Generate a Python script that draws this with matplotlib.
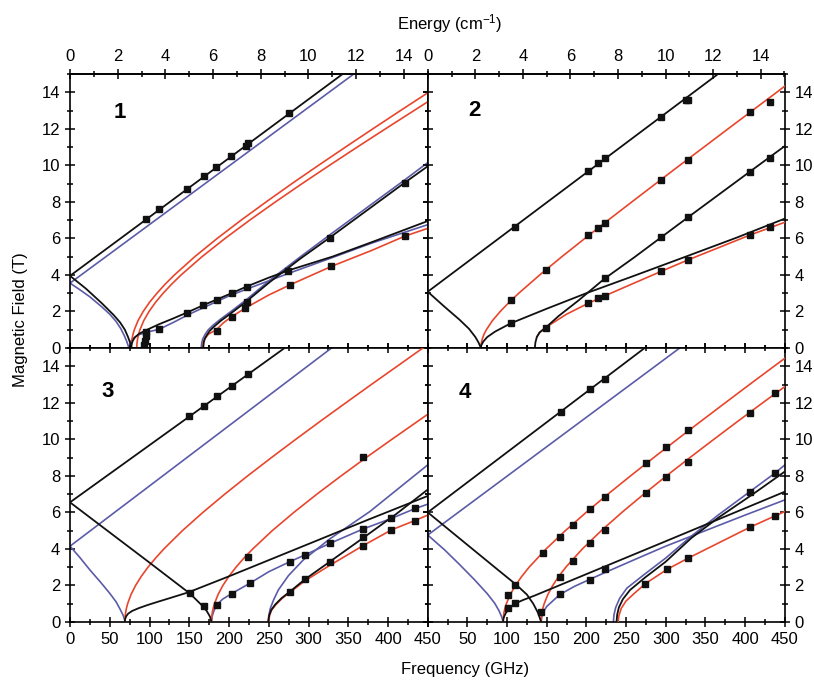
import matplotlib
matplotlib.use('Agg')
import matplotlib.pyplot as plt
from matplotlib.ticker import MultipleLocator

plt.rcParams['font.family'] = ['Liberation Sans', 'DejaVu Sans']
plt.rcParams['mathtext.default'] = 'regular'

GHZ_PER_CM = 29.9792458

BLACK = '#111111'
BLUE = '#5b5ba8'
RED = '#e8462c'

# ---- panel 1 : curves as (frequency GHz, field T) ----
p1_black = [
    ([0, 343], [3.95, 15.0]),
    ([0, 20, 40, 55, 63, 69, 73, 75.5, 77], [3.95, 3.25, 2.45, 1.8, 1.4, 1.0, 0.6, 0.3, 0]),
    ([77, 77.5, 79, 82, 87, 96, 112, 130, 146.6, 167.6, 184.4, 203.3, 222, 250, 276.5, 330, 380, 450],
     [0, 0.2, 0.4, 0.6, 0.78, 0.98, 1.3, 1.62, 1.93, 2.34, 2.65, 3.0, 3.36, 3.85, 4.27, 5.0, 5.8, 6.95]),
    ([167.6, 168.2, 169.5, 172, 176, 182, 190, 201, 222, 251, 290, 327, 421, 450],
     [0, 0.3, 0.5, 0.7, 0.95, 1.2, 1.5, 1.85, 2.55, 3.6, 4.9, 6.05, 9.05, 9.95]),
]
p1_blue = [
    ([0, 357], [3.55, 15.0]),
    ([0, 12, 25, 40, 50, 58, 64, 68, 71, 73, 74], [3.55, 3.2, 2.8, 2.25, 1.85, 1.45, 1.05, 0.7, 0.4, 0.15, 0]),
    ([75, 75.5, 77, 80, 88, 100, 112, 130, 150, 170, 200, 230, 276, 330, 380, 450],
     [0, 0.2, 0.4, 0.55, 0.75, 0.9, 1.02, 1.4, 1.85, 2.25, 2.85, 3.35, 4.1, 4.95, 5.75, 6.75]),
    ([165, 165.8, 167, 170, 174, 180, 190, 201, 222, 251, 290, 327, 421, 450],
     [0, 0.3, 0.5, 0.75, 1.0, 1.25, 1.6, 1.95, 2.65, 3.7, 5.0, 6.2, 9.2, 10.15]),
]
p1_red = [
    ([77, 77.04, 77.25, 78.0, 79.2, 80.9, 85.6, 92.1, 100.0, 109.4, 119.8, 131.4, 157.0, 185.2,
      215.3, 246.8, 279.2, 312.6, 346.6, 381, 415.8, 450],
     [0, 0.1, 0.25, 0.5, 0.75, 1, 1.5, 2, 2.5, 3, 3.5, 4, 5, 6, 7, 8, 9, 10, 11, 12, 13, 13.97]),
    ([84, 84.04, 84.25, 85.0, 86.2, 88.0, 92.8, 99.4, 107.6, 117.2, 128.0, 139.8, 166.1, 195.1,
      226.1, 258.5, 292.0, 326.4, 361.4, 396.9, 432.8, 450],
     [0, 0.1, 0.25, 0.5, 0.75, 1, 1.5, 2, 2.5, 3, 3.5, 4, 5, 6, 7, 8, 9, 10, 11, 12, 13, 13.48]),
    ([167, 167.8, 169.5, 174, 184, 193, 203, 220, 250, 276.5, 329, 380, 421, 450],
     [0, 0.3, 0.5, 0.75, 1.0, 1.38, 1.7, 2.17, 2.9, 3.45, 4.47, 5.35, 6.12, 6.55]),
]
p1_sq_f = [96, 112, 147, 168, 184, 202, 221, 224, 276,
           93, 94, 95, 96, 112, 146.6, 167.6, 184.4, 203.3, 222.2, 274.6,
           184.4, 203.3, 222.2, 220, 276.5, 326.8, 328.9, 421, 421]
p1_sq_B = [7.05, 7.6, 8.7, 9.4, 9.9, 10.5, 11.05, 11.2, 12.85,
           0.15, 0.4, 0.65, 0.9, 1.02, 1.92, 2.34, 2.63, 3.0, 3.36, 4.24,
           0.95, 1.72, 2.54, 2.17, 3.45, 6.04, 4.47, 6.12, 9.05]

# ---- panel 2 ----
p2_black = [
    ([0, 366], [3.08, 15.0]),
    ([0, 20, 40, 52, 60, 64, 67], [3.08, 2.3, 1.55, 1.05, 0.6, 0.3, 0]),
    ([67, 67.5, 70, 75, 85, 104.6, 150, 200, 260, 324, 390, 450],
     [0, 0.15, 0.35, 0.6, 0.9, 1.35, 2.15, 3.0, 3.95, 4.98, 6.05, 7.08]),
    ([135, 135.7, 137.5, 141, 149.6, 165, 190, 223, 260, 294.6, 328, 406, 450],
     [0, 0.3, 0.6, 0.85, 1.15, 1.75, 2.6, 3.8, 4.95, 6.07, 7.15, 9.65, 11.05]),
]
p2_blue = []
p2_red = [
    ([67, 67.07, 67.45, 68.8, 70.9, 73.9, 81.6, 91.4, 102.6, 114.8, 141.2, 169.1, 198.1, 227.5,
      257.4, 287.5, 317.7, 348.2, 378.7, 409.3, 440.0, 450],
     [0, 0.1, 0.25, 0.5, 0.75, 1, 1.5, 2, 2.5, 3, 4, 5, 6, 7, 8, 9, 10, 11, 12, 13, 14, 14.33]),
    ([137.5, 141, 149.6, 175, 202, 223, 260, 294.6, 328, 370, 406, 450],
     [0.6, 0.85, 1.15, 1.85, 2.44, 2.85, 3.55, 4.2, 4.82, 5.55, 6.18, 6.88]),
]
p2_sq_f = [109.7, 202, 214.7, 223.1, 294.6, 326, 328,
           104.6, 149.6, 202, 214.7, 223.1, 294.6, 328.2, 405.9, 431,
           104.6,
           149.6, 223.1, 294.6, 328.2, 405.9, 431.1,
           202, 214.7, 223.1, 294.6, 328.2, 405.9, 431.1]
p2_sq_B = [6.64, 9.7, 10.1, 10.38, 12.66, 13.57, 13.6,
           2.63, 4.27, 6.18, 6.55, 6.82, 9.2, 10.29, 12.94, 13.48,
           1.35,
           1.11, 3.81, 6.09, 7.19, 9.65, 10.38,
           2.44, 2.72, 2.85, 4.21, 4.82, 6.18, 6.64]

# ---- panel 3 ----
p3_black = [
    ([0, 270], [6.55, 15.0]),
    ([0, 50, 100, 130, 151, 165, 172, 176, 178], [6.55, 4.9, 3.25, 2.25, 1.55, 0.95, 0.6, 0.3, 0]),
    ([69, 69.3, 70.5, 73, 78, 86, 97, 110, 125, 148.7, 200, 300, 375, 450],
     [0, 0.15, 0.3, 0.45, 0.6, 0.75, 0.92, 1.1, 1.3, 1.62, 2.5, 4.27, 5.6, 6.9]),
    ([249.3, 250.5, 253, 258, 266, 276.5, 295.4, 326.8, 368.7, 410, 450],
     [0, 0.35, 0.65, 0.95, 1.3, 1.66, 2.33, 3.3, 4.6, 5.9, 7.25]),
]
p3_blue = [
    ([0, 329], [4.15, 15.0]),
    ([0, 12, 25, 38, 50, 58, 63, 67, 69.5], [4.15, 3.55, 2.85, 2.2, 1.57, 1.1, 0.7, 0.35, 0]),
    ([178, 178.8, 180.5, 184.4, 192, 203.2, 226.2, 250, 276.5, 295.4, 326.8, 368.7, 404.3, 433.6, 450],
     [0, 0.3, 0.55, 0.93, 1.25, 1.55, 2.12, 2.75, 3.3, 3.67, 4.3, 5.09, 5.67, 6.2, 6.45]),
    ([249.3, 250, 252, 256, 262, 275, 293.3, 326.8, 377, 450],
     [0, 0.35, 0.75, 1.2, 1.75, 2.55, 3.39, 4.55, 6.04, 8.6]),
]
p3_red = [
    ([69, 69.04, 69.2, 69.9, 70.97, 72.5, 76.7, 82.5, 89.7, 98.1, 107.7, 118.1, 141.4, 167.2,
      194.7, 223.5, 253.4, 284, 315.2, 347, 379, 411.5, 443.9],
     [0, 0.1, 0.25, 0.5, 0.75, 1, 1.5, 2, 2.5, 3, 3.5, 4, 5, 6, 7, 8, 9, 10, 11, 12, 13, 14, 15]),
    ([178, 178.04, 178.2, 178.9, 180.1, 181.7, 186.2, 192.3, 199.9, 208.8, 218.8, 229.9, 254.4,
      281.6, 310.6, 341.1, 372.5, 404.9, 437.8, 450],
     [0, 0.1, 0.25, 0.5, 0.75, 1, 1.5, 2, 2.5, 3, 3.5, 4, 5, 6, 7, 8, 9, 10, 11, 11.37]),
    ([250, 251, 253.5, 259, 267, 276.5, 295.4, 326.8, 368.7, 404.3, 433.6, 450],
     [0, 0.35, 0.65, 0.95, 1.3, 1.62, 2.25, 3.1, 4.18, 5.04, 5.55, 5.85]),
]
p3_sq_f = [150, 168.4, 184.4, 203.2, 224.1,
           151, 168.4,
           224.1, 368.7,
           184.4, 203.2, 226.2, 276.5, 295.4, 326.8, 368.7, 404.3, 433.6,
           276.5, 295.4, 326.8, 368.7,
           368.7, 404.3, 433.6]
p3_sq_B = [11.25, 11.85, 12.35, 12.93, 13.58,
           1.57, 0.87,
           3.57, 9.05,
           0.93, 1.53, 2.12, 3.3, 3.67, 4.3, 5.09, 5.67, 6.22,
           1.66, 2.33, 3.3, 4.67,
           4.18, 5.04, 5.55]

# ---- panel 4 ----
p4_black = [
    ([0, 273.5], [6.0, 15.0]),
    ([0, 50, 90, 111.8, 125, 133, 139, 143], [6.0, 4.22, 2.8, 2.03, 1.5, 1.0, 0.5, 0]),
    ([95, 95.3, 96.3, 98.5, 101.2, 105, 109.7, 120, 135, 200, 300, 450],
     [0, 0.15, 0.3, 0.5, 0.65, 0.83, 1.0, 1.2, 1.45, 2.62, 4.42, 7.13]),
    ([238, 238.8, 241, 246, 255, 274.4, 300, 332.4, 366, 410, 450],
     [0, 0.4, 0.8, 1.25, 1.75, 2.45, 3.3, 4.6, 5.7, 7.0, 8.23]),
]
p4_blue = [
    ([0, 317.7], [4.76, 15.0]),
    ([0, 21.4, 40, 59.2, 75, 84.5, 90, 93.5, 95], [4.76, 3.94, 3.15, 2.3, 1.55, 1.02, 0.6, 0.25, 0]),
    ([143, 143.5, 145, 150, 166.4, 185, 205.1, 223.1, 260, 300, 350, 400, 450],
     [0, 0.25, 0.5, 0.85, 1.5, 1.95, 2.35, 2.7, 3.4, 4.15, 5.0, 5.85, 6.68]),
    ([234, 234.8, 237, 242, 251, 274.4, 300, 332.4, 366, 405.9, 437.4, 450],
     [0, 0.4, 0.8, 1.3, 1.85, 2.65, 3.5, 4.7, 5.85, 7.13, 8.14, 8.59]),
]
p4_red = [
    ([95, 95.04, 95.3, 96.0, 97.3, 99.1, 104.0, 110.5, 118.6, 127.8, 149.2, 173.5, 199.7, 227.2,
      255.7, 284.9, 314.6, 344.7, 375.1, 405.7, 436.6, 450],
     [0, 0.1, 0.25, 0.5, 0.75, 1, 1.5, 2, 2.5, 3, 4, 5, 6, 7, 8, 9, 10, 11, 12, 13, 14, 14.43]),
    ([143, 143.04, 143.24, 143.96, 145.1, 146.8, 151.4, 157.6, 165.2, 174.1, 194.9, 218.8, 244.8,
      272.4, 301.0, 330.5, 360.7, 391.3, 422.3, 450],
     [0, 0.1, 0.25, 0.5, 0.75, 1, 1.5, 2, 2.5, 3, 4, 5, 6, 7, 8, 9, 10, 11, 12, 12.88]),
    ([240, 241, 244, 250, 260, 274.4, 301.7, 328.1, 370, 405.9, 437.4, 450],
     [0, 0.35, 0.75, 1.15, 1.55, 2.1, 2.88, 3.49, 4.4, 5.18, 5.8, 6.04]),
]
p4_sq_f = [168.5, 205.1, 223.1,
           101.2, 109.7, 145.3, 166.4, 183.2, 205.1, 223.1, 275.6, 300.9, 328.1,
           166.4, 183.2, 205.1, 223.1, 275.6, 300.9, 328.1, 405.9, 437.4,
           143.3, 166.4, 205.1, 223.1,
           101.2, 109.7,
           274.4, 301.7, 328.1, 405.9, 437.4,
           405.9, 437.4]
p4_sq_B = [11.5, 12.75, 13.3,
           1.48, 2.03, 3.79, 4.67, 5.31, 6.18, 6.82, 8.68, 9.6, 10.51,
           2.45, 3.36, 4.34, 5.04, 7.04, 7.92, 8.77, 11.46, 12.55,
           0.53, 1.53, 2.3, 2.88,
           0.75, 1.02,
           2.1, 2.88, 3.49, 5.18, 5.8,
           7.13, 8.14]

panels = [
    ('1', [0.086, 0.492, 0.4395, 0.400], p1_black, p1_blue, p1_red, p1_sq_f, p1_sq_B, (0.14, 0.86)),
    ('2', [0.5255, 0.492, 0.4385, 0.400], p2_black, p2_blue, p2_red, p2_sq_f, p2_sq_B, (0.132, 0.865)),
    ('3', [0.086, 0.092, 0.4395, 0.400], p3_black, p3_blue, p3_red, p3_sq_f, p3_sq_B, (0.106, 0.84)),
    ('4', [0.5255, 0.092, 0.4385, 0.400], p4_black, p4_blue, p4_red, p4_sq_f, p4_sq_B, (0.104, 0.836)),
]

fig = plt.figure(figsize=(8.14, 6.85), dpi=100)

for i, (name, rect, blacks, blues, reds, sq_f, sq_B, lab_pos) in enumerate(panels):
    ax = fig.add_axes(rect)
    for f, B in blues:
        ax.plot(f, B, color=BLUE, lw=1.2, zorder=2)
    for f, B in reds:
        ax.plot(f, B, color=RED, lw=1.2, zorder=3)
    for f, B in blacks:
        ax.plot(f, B, color=BLACK, lw=1.3, zorder=4)
    ax.plot(sq_f, sq_B, 's', color=BLACK, ms=4.5, zorder=5, linestyle='none')

    ax.set_xlim(0, 450)
    ax.set_ylim(0, 15)
    ax.xaxis.set_major_locator(MultipleLocator(50))
    ax.xaxis.set_minor_locator(MultipleLocator(25))
    ax.yaxis.set_major_locator(MultipleLocator(2))
    ax.yaxis.set_minor_locator(MultipleLocator(1))
    for sp in ax.spines.values():
        sp.set_linewidth(1.2)

    upper = i < 2
    right = i % 2 == 1
    ax.tick_params(which='both', direction='inout', left=True, right=True,
                   bottom=True, top=not upper, labelsize=12, width=1.1)
    ax.tick_params(which='major', length=7)
    ax.tick_params(which='minor', length=4)
    ax.tick_params(labelbottom=not upper, labelleft=not right, labelright=right, labeltop=False)
    if i == 3:
        ax.set_xticks(range(0, 451, 50))
        ax.set_xticklabels([''] + [str(v) for v in range(50, 451, 50)])

    if upper:
        sec = ax.secondary_xaxis('top', functions=(lambda f: f / GHZ_PER_CM, lambda e: e * GHZ_PER_CM))
        sec.set_xticks(range(0, 15, 2))
        sec.xaxis.set_minor_locator(MultipleLocator(1))
        sec.tick_params(which='both', direction='inout', labelsize=12, width=1.1)
        sec.tick_params(which='major', length=7)
        sec.tick_params(which='minor', length=4)
        sec.spines['top'].set_linewidth(1.2)

    ax.text(lab_pos[0], lab_pos[1], name, transform=ax.transAxes, fontsize=16,
            fontweight='bold', ha='center', va='center')

fig.text(0.553, 0.966, 'Energy (cm$^{-1}$)', ha='center', va='center', fontsize=12)
fig.text(0.571, 0.022, 'Frequency (GHz)', ha='center', va='center', fontsize=12)
fig.text(0.025, 0.533, 'Magnetic Field (T)', ha='center', va='center', rotation=90, fontsize=12)

fig.savefig('out.png', dpi=100)
